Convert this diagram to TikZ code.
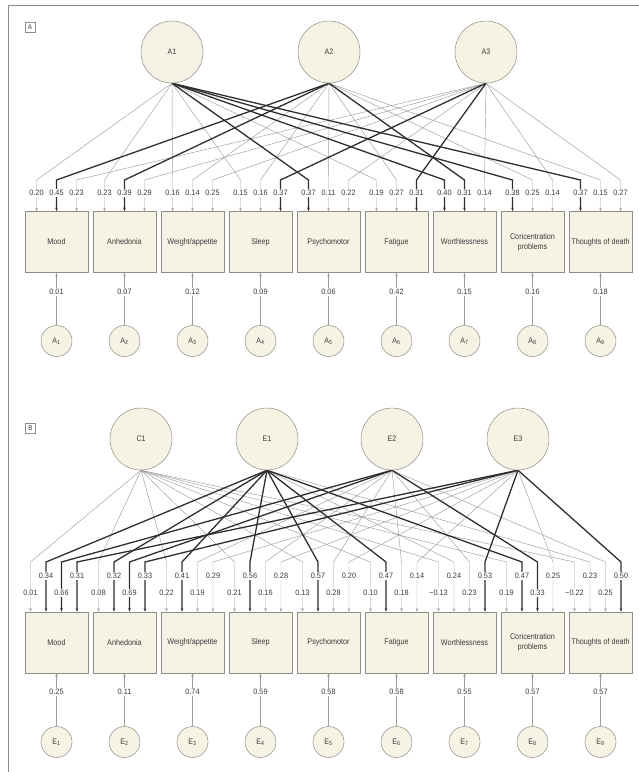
\documentclass[tikz,border=0pt]{standalone}
\usepackage{fontspec}
\setmainfont{Liberation Sans}[FakeStretch=0.88]
\newfontfamily\numfont{Liberation Sans}[FakeStretch=0.94]
\usetikzlibrary{arrows.meta,calc}
\pgfdeclarelayer{lyn}
\pgfdeclarelayer{lyt}
\pgfsetlayers{lyn,lyt,main}
\definecolor{beige}{HTML}{F6F3E4}
\definecolor{edgec}{HTML}{8E8E86}
\definecolor{thinc}{HTML}{9C9C9C}
\definecolor{thickc}{HTML}{2E2E2E}
\definecolor{txt}{HTML}{3A3A3A}
\definecolor{framec}{HTML}{8A8A8A}
\begin{document}
\begin{tikzpicture}[x=1pt,y=-1pt,
  factor/.style={circle,draw=edgec,fill=beige,minimum size=62pt,inner sep=0pt,line width=0.5pt,font=\fontsize{8}{9}\selectfont,text=txt},
  errc/.style={circle,draw=edgec,fill=beige,minimum size=31pt,inner sep=0pt,line width=0.5pt,font=\fontsize{8}{9}\selectfont,text=txt},
  item/.style={rectangle,draw=edgec,fill=beige,minimum width=63pt,minimum height=61pt,inner sep=1pt,line width=0.6pt,align=center,font=\fontsize{8.2}{10}\selectfont,text=txt},
  val/.style={fill=white,inner sep=1.1pt,font=\numfont\fontsize{7.8}{8}\selectfont,text=txt},
  lnn/.style={draw=thinc,line width=0.45pt},
  lnt/.style={draw=thickc,line width=1.3pt},
  tip/.style={-{Stealth[length=3.6pt,width=2.6pt]}},
  plabel/.style={draw=edgec,line width=0.5pt,minimum size=10pt,inner sep=0pt,font=\fontsize{7}{8}\selectfont,text=txt}
]
\useasboundingbox (0,0) rectangle (639,772);
\draw[framec,line width=0.8pt] (8,772) coordinate (fb) -- (8,5) coordinate (fc) -- (639,5) coordinate (fr);

% ---------------- Panel A ----------------
\node[plabel] (labA) at (30,27) {A};
\foreach \f/\x in {1/172,2/329,3/486}
  \node[factor] (A\f) at (\x,52) {A\f};
\foreach \j/\t in {1/Mood,2/Anhedonia,3/{Weight/appetite},4/Sleep,5/Psychomotor,6/Fatigue,7/Worthlessness,8/{Concentration\\problems},9/{Thoughts of death}}{
  \node[item] (bA\j) at (56.5+68*\j-68,242) {\t};
}
\foreach \j/\v in {1/0.01,2/0.07,3/0.12,4/0.09,5/0.06,6/0.42,7/0.15,8/0.16,9/0.18}{
  \node[errc] (eA\j) at (56.5+68*\j-68,341) {A\textsubscript{\j}};
  \begin{pgfonlayer}{lyn}
  \draw[lnn,tip] (eA\j.north) -- (bA\j.south);
  \end{pgfonlayer}
  \node[val] (evA\j) at ($(bA\j.south)+(0,19)$) {\v};
}
\foreach \j/\k/\v/\s in {
  1/1/0.20/n,1/2/0.45/t,1/3/0.23/n,
  2/1/0.23/n,2/2/0.39/t,2/3/0.29/n,
  3/1/0.16/n,3/2/0.14/n,3/3/0.25/n,
  4/1/0.15/n,4/2/0.16/n,4/3/0.37/t,
  5/1/0.37/t,5/2/0.11/n,5/3/0.22/n,
  6/1/0.19/n,6/2/0.27/n,6/3/0.31/t,
  7/1/0.40/t,7/2/0.31/t,7/3/0.14/n,
  8/1/0.38/t,8/2/0.25/n,8/3/0.14/n,
  9/1/0.37/t,9/2/0.15/n,9/3/0.27/n}{
  \coordinate (kA\j\k) at (25+68*\j-68+11.5+20*\k-20,180);
  \begin{pgfonlayer}{ly\s}
  \draw[ln\s,tip] (A\k.south) -- (kA\j\k) -- (kA\j\k |- bA\j.north);
  \end{pgfonlayer}
  \node[val] (vA\j\k) at ($(kA\j\k)+(0,13)$) {\v};
}

% ---------------- Panel B ----------------
\node[plabel] (labB) at (30.5,428) {B};
\foreach \f/\x/\n in {1/141/C1,2/267/E1,3/392/E2,4/518/E3}
  \node[factor] (B\f) at (\x,439) {\n};
\foreach \j/\t in {1/Mood,2/Anhedonia,3/{Weight/appetite},4/Sleep,5/Psychomotor,6/Fatigue,7/Worthlessness,8/{Concentration\\problems},9/{Thoughts of death}}{
  \node[item] (bB\j) at (56.5+68*\j-68,642.5) {\t};
}
\foreach \j/\v in {1/0.25,2/0.11,3/0.74,4/0.59,5/0.58,6/0.58,7/0.55,8/0.57,9/0.57}{
  \node[errc] (eB\j) at (56.5+68*\j-68,742) {E\textsubscript{\j}};
  \begin{pgfonlayer}{lyn}
  \draw[lnn,tip] (eB\j.north) -- (bB\j.south);
  \end{pgfonlayer}
  \node[val] (evB\j) at ($(bB\j.south)+(0,19)$) {\v};
}
\foreach \j/\k/\v/\s/\r in {
  1/1/0.01/n/31,1/2/0.34/t/14,1/3/0.66/t/31,1/4/0.31/t/14,
  2/1/0.08/n/31,2/2/0.32/t/14,2/3/0.69/t/31,2/4/0.33/t/14,
  3/1/0.22/n/31,3/2/0.41/t/14,3/3/0.19/n/31,3/4/0.29/n/14,
  4/1/0.21/n/31,4/2/0.56/t/14,4/3/0.16/n/31,4/4/0.28/n/14,
  5/1/0.13/n/31,5/2/0.57/t/14,5/3/0.28/n/31,5/4/0.20/n/14,
  6/1/0.10/n/31,6/2/0.47/t/14,6/3/0.18/n/31,6/4/0.14/n/14,
  7/1/−0.13/n/31,7/2/0.24/n/14,7/3/0.23/n/31,7/4/0.53/t/14,
  8/1/0.19/n/31,8/2/0.47/t/14,8/3/0.33/t/31,8/4/0.25/n/14,
  9/1/−0.22/n/31,9/2/0.23/n/14,9/3/0.25/n/31,9/4/0.50/t/14}{
  \coordinate (kB\j\k) at (25+68*\j-68+5.5+15.5*\k-15.5,562);
  \begin{pgfonlayer}{ly\s}
  \draw[ln\s,tip] (B\k.south) -- (kB\j\k) -- (kB\j\k |- bB\j.north);
  \end{pgfonlayer}
  \node[val] (vB\j\k) at ($(kB\j\k)+(0,\r)$) {\v};
}
\end{tikzpicture}
\end{document}
